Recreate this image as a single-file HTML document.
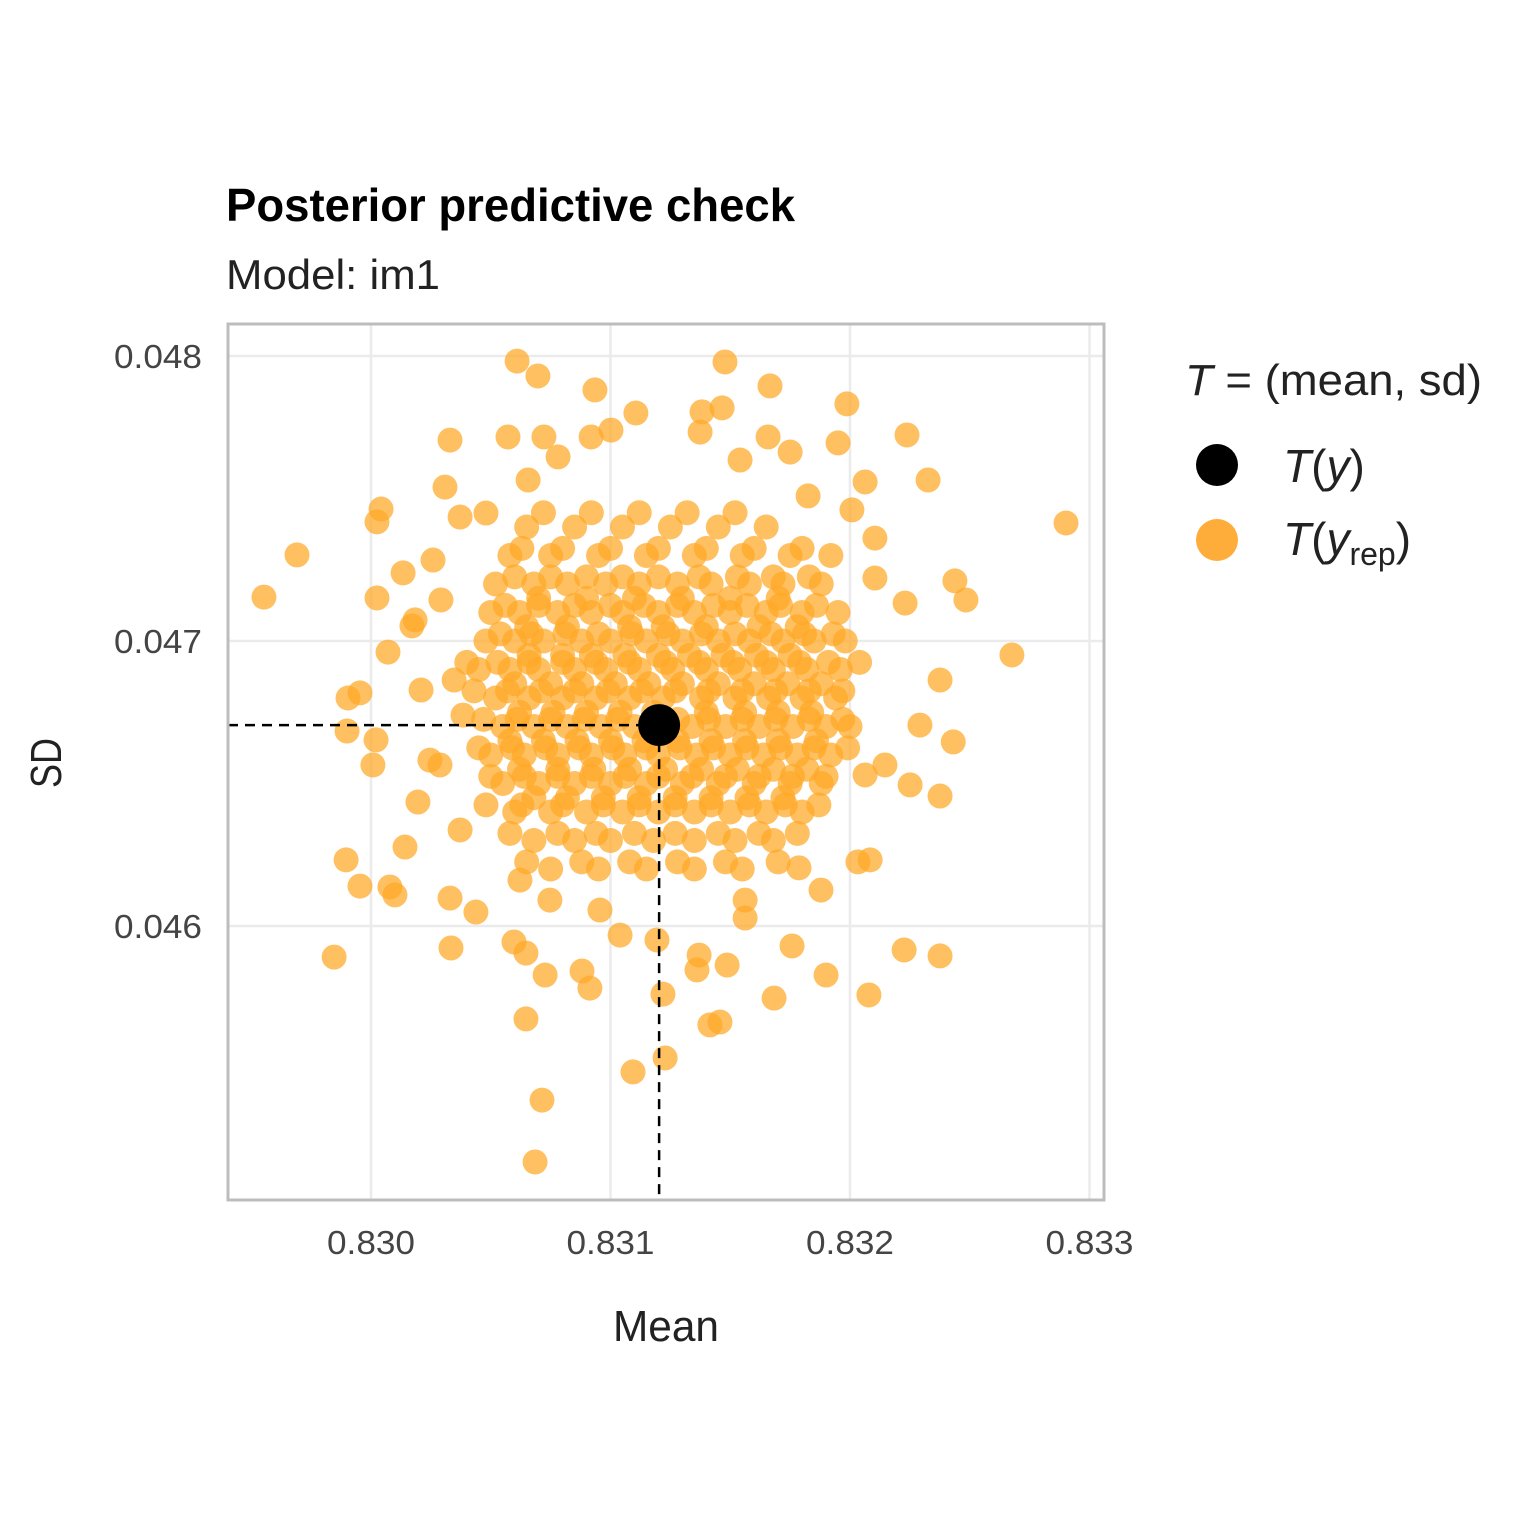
<!DOCTYPE html>
<html><head><meta charset="utf-8"><style>
html,body{margin:0;padding:0;background:#fff;}
svg text{font-family:"Liberation Sans",sans-serif;}
</style></head><body>
<svg id="chart" width="1535" height="1535" viewBox="0 0 1535 1535" xmlns="http://www.w3.org/2000/svg">
<rect x="0" y="0" width="1535" height="1535" fill="#fff"/>
<text x="226" y="221" font-size="46" font-weight="bold" fill="#000" textLength="569" lengthAdjust="spacingAndGlyphs">Posterior predictive check</text>
<text x="226" y="289" font-size="42" fill="#222" textLength="214" lengthAdjust="spacingAndGlyphs">Model: im1</text>
<g id="grid"></g>
<g id="points"></g>
<g id="ref"></g>
<rect x="228" y="324" width="876" height="876" fill="none" stroke="#bdbdbd" stroke-width="3"/>
<g id="ticks"></g>
<text x="666" y="1341" font-size="44" fill="#222" text-anchor="middle" textLength="106" lengthAdjust="spacingAndGlyphs">Mean</text>
<text x="0" y="0" font-size="44" fill="#222" text-anchor="middle" transform="translate(61,763) rotate(-90)" textLength="50" lengthAdjust="spacingAndGlyphs">SD</text>
<g>
<text x="1185" y="395" font-size="44" fill="#222" textLength="297" lengthAdjust="spacingAndGlyphs"><tspan font-style="italic">T</tspan> = (mean, sd)</text>
<circle cx="1217" cy="465" r="21" fill="#000"/>
<text x="1283" y="482" font-size="46" fill="#222"><tspan font-style="italic">T</tspan>(<tspan font-style="italic">y</tspan>)</text>
<circle cx="1217" cy="540" r="21" fill="#ffad3a"/>
<text x="1283" y="555" font-size="46" fill="#222"><tspan font-style="italic">T</tspan>(<tspan font-style="italic">y</tspan><tspan font-size="32" dy="10">rep</tspan><tspan dy="-10">)</tspan></text>
</g>
</svg>
<script>
const xTicks = [0.830, 0.831, 0.832, 0.833];
const xTickLabels = ["0.830", "0.831", "0.832", "0.833"];
const yTicks = [0.046, 0.047, 0.048];
const yTickLabels = ["0.046", "0.047", "0.048"];
const observedMean = 0.831203;
const observedSd = 0.046705;
const outlierMean = [0.829553,0.829691,0.830025,0.830042,0.830025,0.830134,0.830259,0.830309,0.830330,0.830610,0.830697,0.830935,0.831478,0.831666,0.831987,0.832238,0.832326,0.832902,0.832676,0.832438,0.832484,0.832230,0.832376,0.832431,0.832376,0.832084,0.832033,0.832226,0.832376,0.832079,0.831900,0.831683,0.831758,0.831457,0.831415,0.831228,0.831219,0.831194,0.831094,0.830714,0.830685,0.830647,0.830727,0.830914,0.830881,0.830647,0.830597,0.830334,0.829846,0.829896,0.829954,0.830100,0.830079,0.830142,0.830196,0.830330,0.830438,0.830008,0.830021,0.829900,0.829904,0.829954,0.830071,0.830209,0.830171,0.830184,0.830292,0.831374,0.831382,0.831466,0.831658,0.831750,0.831950,0.832063,0.832008,0.832104,0.832104,0.831825,0.831106,0.831002,0.830919,0.830722,0.830572,0.830781,0.830656,0.830372,0.830480,0.831541,0.832063,0.832146,0.832251,0.832292,0.831879,0.831787,0.831562,0.831562,0.831361,0.831370,0.831487,0.831040,0.830956,0.830747,0.830622,0.830372,0.830288,0.830246,0.830384,0.830347];
const outlierSd = [0.047154,0.047302,0.047418,0.047463,0.047151,0.047239,0.047284,0.047540,0.047705,0.047982,0.047930,0.047881,0.047979,0.047895,0.047832,0.047723,0.047565,0.047414,0.046951,0.047211,0.047144,0.047133,0.046863,0.046646,0.046456,0.046232,0.046225,0.045916,0.045895,0.045758,0.045828,0.045747,0.045930,0.045663,0.045653,0.045537,0.045761,0.045951,0.045488,0.045389,0.045172,0.045674,0.045828,0.045782,0.045842,0.045905,0.045944,0.045923,0.045891,0.046232,0.046140,0.046109,0.046137,0.046277,0.046435,0.046098,0.046049,0.046565,0.046653,0.046684,0.046800,0.046818,0.046961,0.046828,0.047053,0.047074,0.047144,0.047733,0.047804,0.047818,0.047716,0.047663,0.047695,0.047558,0.047460,0.047361,0.047221,0.047509,0.047800,0.047740,0.047716,0.047716,0.047716,0.047646,0.047565,0.047435,0.047449,0.047635,0.046530,0.046565,0.046495,0.046705,0.046126,0.046204,0.046091,0.046028,0.045846,0.045898,0.045863,0.045968,0.046056,0.046091,0.046161,0.046337,0.046565,0.046582,0.046740,0.046863];
const coreSdRows = [0.04740,0.04730,0.04720,0.04710,0.04700,0.04690,0.04680,0.04670,0.04660,0.04650,0.04640,0.04630,0.04620,0.04715,0.04705,0.04695,0.04685,0.04675,0.04665,0.04655,0.04645,
0.047325,0.047225,0.047125,0.047025,0.046925,0.046825,0.046725,0.046625,0.046525,0.046425,0.046325,0.046225,0.047450];
const coreMeanRows = [
[0.83065,0.83085,0.83105,0.83125,0.83145,0.83165],
[0.83058,0.83075,0.83095,0.83115,0.83135,0.83155,0.83175,0.83192],
[0.83052,0.83068,0.83082,0.83098,0.83112,0.83128,0.83142,0.83158,0.83172,0.83188],
[0.83050,0.83062,0.83078,0.83092,0.83105,0.83120,0.83135,0.83150,0.83165,0.83180,0.83195],
[0.83048,0.83060,0.83072,0.83088,0.83100,0.83115,0.83130,0.83145,0.83158,0.83172,0.83185,0.83198],
[0.83045,0.83058,0.83070,0.83085,0.83098,0.83112,0.83126,0.83140,0.83154,0.83168,0.83182,0.83196],
[0.83052,0.83066,0.83080,0.83094,0.83108,0.83122,0.83138,0.83152,0.83166,0.83180,0.83194],
[0.83055,0.83068,0.83082,0.83096,0.83110,0.83134,0.83148,0.83162,0.83176,0.83190,0.83200],
[0.83050,0.83064,0.83078,0.83092,0.83106,0.83120,0.83136,0.83150,0.83164,0.83178,0.83192],
[0.83055,0.83070,0.83085,0.83100,0.83115,0.83130,0.83145,0.83160,0.83175,0.83188],
[0.83060,0.83075,0.83090,0.83105,0.83120,0.83135,0.83150,0.83165,0.83180],
[0.83068,0.83085,0.83100,0.83118,0.83135,0.83152,0.83168],
[0.83075,0.83095,0.83115,0.83135,0.83155],
[0.83070,0.83090,0.83110,0.83130,0.83150,0.83170],
[0.83065,0.83082,0.83108,0.83122,0.83140,0.83162,0.83178],
[0.83066,0.83080,0.83092,0.83106,0.83120,0.83133,0.83147,0.83161,0.83175],
[0.83060,0.83075,0.83088,0.83102,0.83116,0.83130,0.83145,0.83160,0.83174,0.83188],
[0.83062,0.83076,0.83090,0.83104,0.83118,0.83140,0.83156,0.83170,0.83184],
[0.83058,0.83072,0.83086,0.83100,0.83114,0.83128,0.83142,0.83156,0.83170,0.83186],
[0.83062,0.83078,0.83093,0.83108,0.83123,0.83138,0.83153,0.83168,0.83182],
[0.83068,0.83082,0.83097,0.83112,0.83127,0.83142,0.83157,0.83172],
[0.83063,0.83080,0.83100,0.83120,0.83140,0.83160,0.83180],
[0.83060,0.83075,0.83090,0.83105,0.83120,0.83137,0.83153,0.83168,0.83183],
[0.83056,0.83070,0.83085,0.83100,0.83114,0.83128,0.83143,0.83157,0.83171,0.83186],
[0.83054,0.83067,0.83081,0.83095,0.83109,0.83124,0.83138,0.83152,0.83167,0.83181,0.83193],
[0.83040,0.83053,0.83066,0.83080,0.83094,0.83108,0.83123,0.83137,0.83151,0.83165,0.83179,0.83191,0.83204],
[0.83043,0.83057,0.83071,0.83085,0.83099,0.83113,0.83127,0.83141,0.83155,0.83169,0.83183,0.83197],
[0.83047,0.83061,0.83075,0.83089,0.83103,0.83128,0.83141,0.83155,0.83169,0.83183,0.83197],
[0.83045,0.83059,0.83073,0.83087,0.83101,0.83115,0.83129,0.83143,0.83157,0.83171,0.83185,0.83199],
[0.83050,0.83064,0.83078,0.83092,0.83106,0.83120,0.83134,0.83148,0.83162,0.83176,0.83190],
[0.83048,0.83063,0.83080,0.83097,0.83112,0.83127,0.83142,0.83158,0.83173,0.83187],
[0.83058,0.83078,0.83094,0.83110,0.83127,0.83145,0.83162,0.83178],
[0.83065,0.83088,0.83108,0.83128,0.83148,0.83170],
[0.83072,0.83092,0.83112,0.83132,0.83152]
];

const NS = "http://www.w3.org/2000/svg";
const PX0 = 228, PX1 = 1104, PY0 = 324, PY1 = 1200;
function xScale(v){ return 371 + (v - 0.830) * 239500; }
function yScale(v){ return 356 + (0.048 - v) * 285000; }
function mk(tag, attrs, parent){
  const e = document.createElementNS(NS, tag);
  for (const k in attrs) e.setAttribute(k, attrs[k]);
  parent.appendChild(e);
  return e;
}
const grid = document.getElementById('grid');
xTicks.forEach(function(t){
  const l = mk('line', {x1: xScale(t), x2: xScale(t), y1: PY0, y2: PY1, stroke: '#ebebeb', 'stroke-width': 2.5}, grid);
  
  
});
yTicks.forEach(function(t){
  const l = mk('line', {x1: PX0, x2: PX1, y1: yScale(t), y2: yScale(t), stroke: '#ebebeb', 'stroke-width': 2.5}, grid);
  
  
});
const ticks = document.getElementById('ticks');
xTicks.forEach(function(t, i){
  const e = mk('text', {x: xScale(t), y: 1254, 'font-size': 33, fill: '#444', 'text-anchor': 'middle', textLength: 88, lengthAdjust: 'spacingAndGlyphs'}, ticks);
  e.textContent = xTickLabels[i];
  
  
});
yTicks.forEach(function(t, i){
  const e = mk('text', {x: 202, y: yScale(t) + 12, 'font-size': 33, fill: '#444', 'text-anchor': 'end', textLength: 88, lengthAdjust: 'spacingAndGlyphs'}, ticks);
  e.textContent = yTickLabels[i];
  
  
});
const pts = document.getElementById('points');
function dot(m, s){
  const c = mk('circle', {cx: xScale(m), cy: yScale(s), r: 12.5, fill: '#ffa726', 'fill-opacity': 0.72}, pts);
  
  
}
coreSdRows.forEach(function(s, i){ coreMeanRows[i].forEach(function(m){ dot(m, s); }); });
outlierMean.forEach(function(m, i){ dot(m, outlierSd[i]); });
const ref = document.getElementById('ref');
const hl = mk('line', {x1: PX0, x2: xScale(observedMean), y1: yScale(observedSd), y2: yScale(observedSd), stroke: '#000', 'stroke-width': 2.5, 'stroke-dasharray': '10,7'}, ref);


const vl = mk('line', {x1: xScale(observedMean), x2: xScale(observedMean), y1: yScale(observedSd), y2: PY1, stroke: '#000', 'stroke-width': 2.5, 'stroke-dasharray': '10,7'}, ref);


const ob = mk('circle', {cx: xScale(observedMean), cy: yScale(observedSd), r: 21, fill: '#000'}, ref);


</script>
</body></html>
